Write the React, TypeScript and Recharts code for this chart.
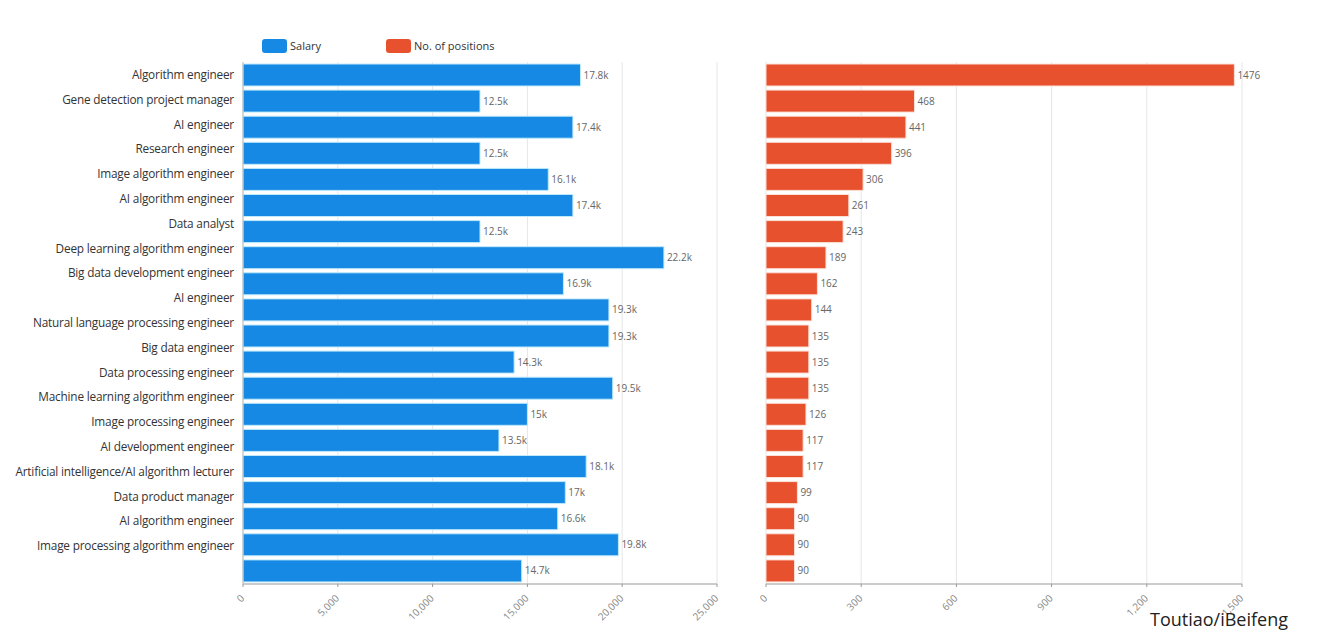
import React from "react";
import { BarChart, Bar, XAxis, YAxis, CartesianGrid, LabelList } from "recharts";

const roles = [
  "Algorithm engineer",
  "Gene detection project manager",
  "AI engineer",
  "Research engineer",
  "Image algorithm engineer",
  "AI algorithm engineer",
  "Data analyst",
  "Deep learning algorithm engineer",
  "Big data development engineer",
  "AI engineer",
  "Natural language processing engineer",
  "Big data engineer",
  "Data processing engineer",
  "Machine learning algorithm engineer",
  "Image processing engineer",
  "AI development engineer",
  "Artificial intelligence/AI algorithm lecturer",
  "Data product manager",
  "AI algorithm engineer",
  "Image processing algorithm engineer",
];
const salary = [17800, 12500, 17400, 12500, 16100, 17400, 12500, 22200, 16900, 19300, 19300, 14300, 19500, 15000, 13500, 18100, 17000, 16600, 19800, 14700];
const positions = [1476, 468, 441, 396, 306, 261, 243, 189, 162, 144, 135, 135, 135, 126, 117, 117, 99, 90, 90, 90];
const salaryTicks = [0, 5000, 10000, 15000, 20000, 25000];
const positionTicks = [0, 300, 600, 900, 1200, 1500];
const seriesNames = ["Salary", "No. of positions"];
const source = "Toutiao/iBeifeng";

const BLUE = "#1689e4";
const RED = "#e8512e";
const FONT = "'Open Sans', 'Noto Sans', sans-serif";

const data = roles.map((r, i) => ({ key: `${i}`, name: r, salary: salary[i], positions: positions[i] }));

const fmt = (v: number) => v.toLocaleString("en-US");
const fmtK = (v: number) => `${Math.round(v / 100) / 10}k`;

const RotTick = (props: any) => {
  const { x, y, payload } = props;
  return (
    <text x={x + 2} y={y + 10} transform={`rotate(-45 ${x + 2} ${y + 10})`} textAnchor="end" fontSize={10} fill="#888" fontFamily={FONT}>
      {fmt(payload.value)}
    </text>
  );
};

const CatTick = (props: any) => {
  const { x, y, index } = props;
  const dy = -index * 1.3;
  return (
    <text x={x - 1} y={y + dy} dy={4} textAnchor="end" fontSize={11.8} fill="#333" fontFamily={FONT} letterSpacing={-0.2}>
      {roles[index]}
    </text>
  );
};

export default function App() {
  return (
    <div style={{ position: "absolute", left: 0, top: 0, width: 1324, height: 634, background: "#fff", fontFamily: FONT }}>
      <div style={{ position: "absolute", left: 0, top: 0 }}>
        <BarChart width={740} height={634} data={data} layout="vertical" margin={{ top: 62, right: 23, bottom: 20, left: 0 }} barSize={22}>
          <CartesianGrid horizontal={false} stroke="#e6e6e6" />
          <XAxis type="number" domain={[0, 25000]} ticks={salaryTicks} tick={<RotTick />} stroke="#999" tickSize={3} interval={0} height={30} />
          <YAxis type="category" dataKey="key" width={243} tick={<CatTick />} interval={0} stroke="#bbb" tickLine={false} />
          <Bar dataKey="salary" fill={BLUE} stroke="#bfe9fb" strokeWidth={1} isAnimationActive={false}>
            <LabelList dataKey="salary" position="right" offset={3} formatter={(v: any) => fmtK(Number(v))} style={{ fontSize: 10, fill: "#666", fontFamily: FONT }} />
          </Bar>
        </BarChart>
      </div>
      <div style={{ position: "absolute", left: 740, top: 0 }}>
        <BarChart width={584} height={634} data={data} layout="vertical" margin={{ top: 62, right: 82, bottom: 20, left: 26 }} barSize={22}>
          <CartesianGrid horizontal={false} stroke="#e6e6e6" />
          <XAxis type="number" domain={[0, 1500]} ticks={positionTicks} tick={<RotTick />} stroke="#999" tickSize={3} interval={0} height={30} />
          <YAxis type="category" dataKey="key" width={0} tick={false} stroke="#bbb" tickLine={false} />
          <Bar dataKey="positions" fill={RED} stroke="#fbe0d6" strokeWidth={1} isAnimationActive={false}>
            <LabelList dataKey="positions" position="right" offset={3} style={{ fontSize: 10, fill: "#666", fontFamily: FONT }} />
          </Bar>
        </BarChart>
      </div>
      <div style={{ position: "absolute", left: 262, top: 38, display: "flex", alignItems: "center", fontSize: 11, color: "#333" }}>
        <div style={{ width: 25, height: 14, background: BLUE, borderRadius: 3, marginRight: 3 }} />
        <span style={{ width: 96 }}>{seriesNames[0]}</span>
        <div style={{ width: 25, height: 14, background: RED, borderRadius: 3, marginRight: 3 }} />
        <span>{seriesNames[1]}</span>
      </div>
      <div style={{ position: "absolute", left: 1150, top: 607, fontSize: 18, color: "#222" }}>{source}</div>
    </div>
  );
}
